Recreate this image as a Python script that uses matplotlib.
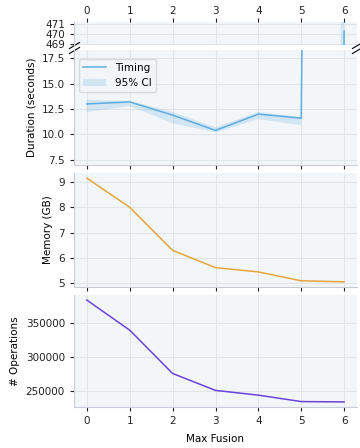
import matplotlib
matplotlib.use("Agg")
import matplotlib.pyplot as plt

max_fusion = [0, 1, 2, 3, 4, 5, 6]
timing = [13.0, 13.2, 11.9, 10.4, 12.0, 11.6, 470.3]
timing_lo = [12.2, 12.8, 11.1, 10.2, 11.5, 10.9, 455.0]
timing_hi = [13.4, 13.3, 12.2, 10.7, 12.2, 11.7, 510.0]
memory = [9.15, 8.0, 6.3, 5.62, 5.45, 5.1, 5.06]
operations = [384000, 339500, 275500, 250500, 243500, 234000, 233500]

BG = "#f3f6f8"
GRID = "#e1e4e8"
SPINE = "#c9ccd8"
C_TIME = "#5dade2"
C_MEM = "#e5a53c"
C_OPS = "#6a44d8"

plt.rcParams.update({
    "font.family": "DejaVu Sans",
    "font.size": 7.5,
    "axes.facecolor": BG,
    "axes.edgecolor": SPINE,
    "xtick.color": "#222222",
    "ytick.color": "#222222",
    "xtick.major.size": 3,
    "ytick.major.size": 3,
})

fig = plt.figure(figsize=(3.6, 4.48), dpi=100)
L, W = 74 / 360, 283 / 360


def frac(top, bottom):
    return [L, 1 - bottom / 448, W, (bottom - top) / 448]


ax_top = fig.add_axes(frac(22, 45))
ax_time = fig.add_axes(frac(50, 165))
ax_mem = fig.add_axes(frac(173, 287))
ax_ops = fig.add_axes(frac(295, 407))

for ax in (ax_top, ax_time, ax_mem, ax_ops):
    ax.grid(True, color=GRID, linewidth=0.8)
    ax.set_axisbelow(True)
    ax.set_xlim(-0.3, 6.3)
    ax.set_xticks(max_fusion)
    for s in ("top", "right"):
        ax.spines[s].set_visible(False)

for ax in (ax_top, ax_time):
    ax.fill_between(max_fusion, timing_lo, timing_hi, color=C_TIME, alpha=0.22,
                    linewidth=0, label="95% CI")
    ax.plot(max_fusion, timing, color=C_TIME, linewidth=1.1, label="Timing")

ax_top.set_ylim(468.95, 471.2)
ax_top.set_yticks([469, 470, 471])
ax_top.spines["bottom"].set_visible(False)
ax_top.xaxis.tick_top()
ax_top.tick_params(axis="x", labeltop=True, labelbottom=False, pad=1)

ax_time.set_ylim(7.0, 18.3)
ax_time.set_yticks([7.5, 10.0, 12.5, 15.0, 17.5])
ax_time.tick_params(axis="x", labelbottom=False)
ax_time.set_ylabel("Duration (seconds)")

# break marks
d = 0.6
kw = dict(marker=[(-1, -d), (1, d)], markersize=8, linestyle="none",
          color="k", mec="k", mew=0.8, clip_on=False)
ax_top.plot([0, 1], [0, 0], transform=ax_top.transAxes, **kw)
ax_time.plot([0, 1], [1, 1], transform=ax_time.transAxes, **kw)

handles, labels = ax_time.get_legend_handles_labels()
ax_time.legend(handles[::-1], labels[::-1], loc="upper left",
               bbox_to_anchor=(0.0, 0.97), fontsize=7.5, frameon=True,
               facecolor=BG, edgecolor="#d0d3d8", handlelength=2.2)

ax_mem.plot(max_fusion, memory, color=C_MEM, linewidth=1.1)
ax_mem.set_yticks([5, 6, 7, 8, 9])
ax_mem.tick_params(axis="x", labelbottom=False)
ax_mem.set_ylabel("Memory (GB)")

ax_ops.plot(max_fusion, operations, color=C_OPS, linewidth=1.1)
ax_ops.set_yticks([250000, 300000, 350000])
ax_ops.set_ylabel("# Operations")
ax_ops.set_xlabel("Max Fusion", labelpad=6)

fig.savefig("out.png", dpi=100)
